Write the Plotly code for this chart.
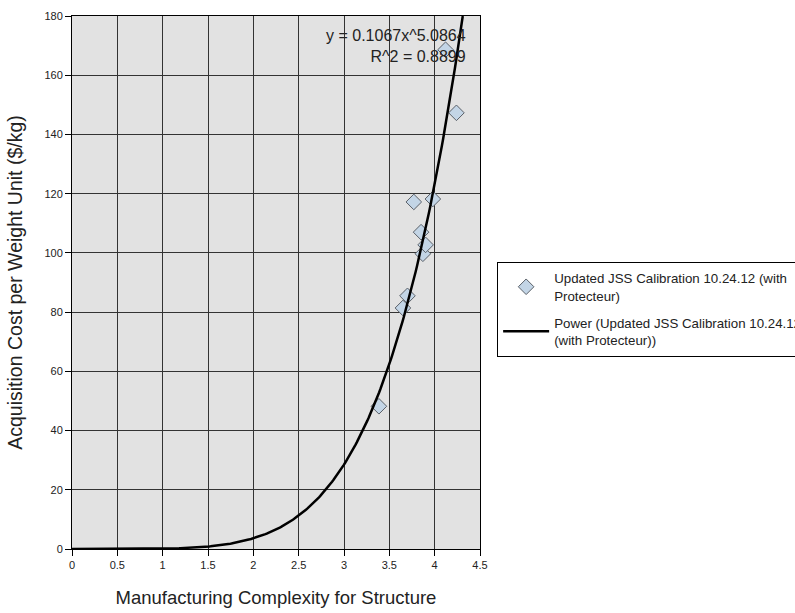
import numpy as np
import plotly.graph_objects as go

# Calibration data points
complexity = [3.385, 3.65, 3.70, 3.77, 3.85, 3.87, 3.90, 3.98, 4.12, 4.24]
cost = [48.2, 81.4, 85.5, 117.2, 107.0, 99.7, 102.7, 118.2, 168.6, 147.3]

# Power trendline coefficients
coef_a = 0.1067
coef_b = 5.0864
r_squared = 0.8899

x_ticks = [0, 0.5, 1, 1.5, 2, 2.5, 3, 3.5, 4, 4.5]
y_ticks = list(range(0, 181, 20))

x_max = (180 / coef_a) ** (1 / coef_b)
fit_x = np.linspace(0, x_max, 300)
fit_y = coef_a * fit_x ** coef_b

FONT = "Liberation Sans, Arial, sans-serif"

fig = go.Figure()
fig.add_trace(go.Scatter(
    x=complexity, y=cost, mode="markers", legendgroup="pts",
    name="Updated JSS Calibration 10.24.12 (with<br>Protecteur)",
    marker=dict(symbol="diamond", size=12, color="#c3d5e6",
                line=dict(color="#5a6068", width=1)),
))
fig.add_trace(go.Scatter(
    x=fit_x, y=fit_y, mode="lines", legendgroup="fit",
    name="Power (Updated JSS Calibration 10.24.12<br>(with Protecteur))",
    line=dict(color="black", width=2.5),
))

fig.add_annotation(
    xref="paper", yref="paper", x=0.971, y=0.983, xanchor="right", yanchor="top",
    text=f"y = {coef_a}x^{coef_b}<br>R^2 = {r_squared}",
    showarrow=False, align="right",
    font=dict(family=FONT, size=16, color="#222"),
)

axis_common = dict(
    showgrid=True, gridcolor="#333", gridwidth=1,
    showline=True, linecolor="black", linewidth=1, mirror=True,
    ticks="outside", ticklen=6, tickcolor="black",
    tickfont=dict(family=FONT, size=11, color="#222"),
    zeroline=False,
)

fig.update_xaxes(range=[0, 4.5], tickvals=x_ticks,
                 ticktext=[f"{v:g}" for v in x_ticks],
                 title=dict(text="Manufacturing Complexity for Structure",
                            font=dict(family=FONT, size=18.5, color="#222"),
                            standoff=20),
                 **axis_common)
fig.update_yaxes(range=[0, 180], tickvals=y_ticks,
                 title=dict(text="Acquisition Cost per Weight Unit ($/kg)",
                            font=dict(family=FONT, size=19.5, color="#222"),
                            standoff=16),
                 **axis_common)

fig.update_layout(
    width=795, height=613,
    margin=dict(l=72, r=315, t=16, b=64, autoexpand=False),
    plot_bgcolor="#e2e2e2", paper_bgcolor="white",
    legend=dict(x=1.042, y=0.5385, xanchor="left", yanchor="top",
                bgcolor="white", bordercolor="black", borderwidth=1,
                font=dict(family=FONT, size=13.3, color="#222"),
                itemwidth=46, tracegroupgap=7),
    showlegend=True,
)

fig.write_html("out.html")
